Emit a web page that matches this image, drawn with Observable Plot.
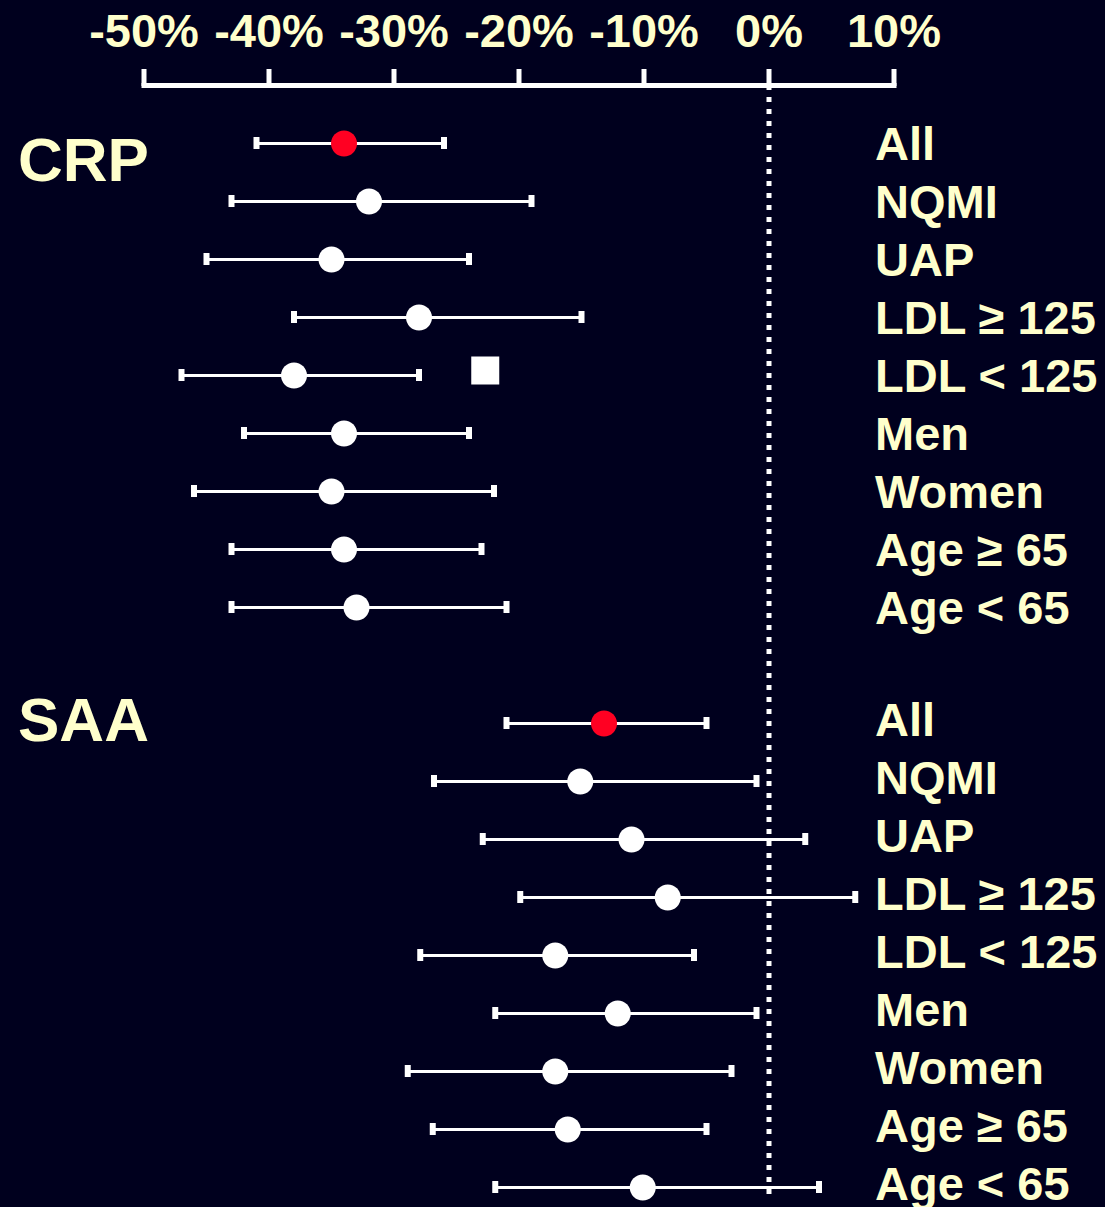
<!DOCTYPE html>
<html>
<head>
<meta charset="utf-8">
<script src="https://cdn.jsdelivr.net/npm/d3@7"></script>
<script src="https://cdn.jsdelivr.net/npm/@observablehq/plot@0.6"></script>
<style>
  html, body { margin: 0; padding: 0; background: #00001e; }
  #chart svg { display: block; }
</style>
</head>
<body>
<div id="chart"></div>
<script>
// ---- data ----
const groups = ["CRP", "SAA"];
const subgroups = ["All", "NQMI", "UAP", "LDL ≥ 125", "LDL < 125", "Men", "Women", "Age ≥ 65", "Age < 65"];

const crpMid = [-34, -32, -35, -28, -38, -34, -35, -34, -33];
const crpLo  = [-41, -43, -45, -38, -47, -42, -46, -43, -43];
const crpHi  = [-26, -19, -24, -15, -28, -24, -22, -23, -21];

const saaMid = [-13.2, -15.1, -11, -8.1, -17.1, -12.1, -17.1, -16.1, -10.1];
const saaLo  = [-21, -26.8, -22.9, -19.9, -27.9, -21.9, -28.9, -26.9, -21.9];
const saaHi  = [-5, -1, 2.9, 6.9, -6, -1, -3, -5, 4];

const squareMarker = [{group: "CRP", label: "LDL < 125", value: -22.7}];

const xTicks = [-50, -40, -30, -20, -10, 0, 10];

// ---- build table ----
const key = (g, s) => g + "|" + s;
const rowKeys = [
  ...subgroups.map(s => key("CRP", s)),
  "gap",
  ...subgroups.map(s => key("SAA", s))
];
const rows = [
  ...subgroups.map((s, i) => ({group: "CRP", label: s, key: key("CRP", s), mid: crpMid[i], lo: crpLo[i], hi: crpHi[i]})),
  ...subgroups.map((s, i) => ({group: "SAA", label: s, key: key("SAA", s), mid: saaMid[i], lo: saaLo[i], hi: saaHi[i]}))
];
const squares = squareMarker.map(d => ({...d, key: key(d.group, d.label)}));
const groupLabels = groups.map(g => ({label: g, key: key(g, subgroups[0])}));

const textColor = "#ffffcc";
const font = "'Liberation Sans', Arial, Helvetica, sans-serif";

const labelOpts = {y: "key", text: "label", frameAnchor: "right", dx: -19, textAnchor: "start",
  fill: textColor, fontSize: 47, fontWeight: "bold"};

const chart = Plot.plot({
  width: 1105,
  height: 1207,
  marginLeft: 143.5,
  marginRight: 1105 - 893.5,
  marginTop: 85,
  marginBottom: 11,
  style: {background: "#00001e", fontFamily: font, fontWeight: "bold", overflow: "visible"},
  x: {domain: [-50, 10], axis: null},
  y: {type: "point", domain: rowKeys, range: [142.5, 1187.5], padding: 0, axis: null},
  marks: [
    Plot.frame({anchor: "top", stroke: "white", strokeWidth: 5, strokeLinecap: "square"}),
    Plot.axisX(xTicks, {
      anchor: "top", tickSize: 17, tickPadding: 22,
      stroke: "white", strokeWidth: 5,
      fill: textColor, fontSize: 47, fontWeight: "bold",
      tickFormat: d => `${d}%`
    }),
    Plot.ruleX([0], {stroke: "white", strokeWidth: 5, strokeDasharray: "5,7"}),
    Plot.ruleY(rows, {y: "key", x1: "lo", x2: "hi", stroke: "white", strokeWidth: 3}),
    Plot.ruleX(rows, {x: "lo", y1: "key", y2: "key", insetTop: -6, insetBottom: -6, stroke: "white", strokeWidth: 6}),
    Plot.ruleX(rows, {x: "hi", y1: "key", y2: "key", insetTop: -6, insetBottom: -6, stroke: "white", strokeWidth: 6}),
    Plot.dot(rows, {x: "mid", y: "key", r: 13, fill: d => d.label === "All" ? "#ff0022" : "white", stroke: null}),
    Plot.dot(squares, {x: "value", y: "key", symbol: "square", r: 15.8, fill: "white", dy: -5}),
    Plot.text(rows.filter(d => d.group === "CRP"), {...labelOpts, dy: 1}),
    Plot.text(rows.filter(d => d.group === "SAA"), {...labelOpts, dy: -3}),
    Plot.text(groupLabels.filter(d => d.label === "CRP"), {y: "key", text: "label", frameAnchor: "left", dx: -126, dy: 18,
      textAnchor: "start", fill: textColor, fontSize: 62, fontWeight: "bold"}),
    Plot.text(groupLabels.filter(d => d.label === "SAA"), {y: "key", text: "label", frameAnchor: "left", dx: -126, dy: -2,
      textAnchor: "start", fill: textColor, fontSize: 62, fontWeight: "bold"})
  ]
});
document.getElementById("chart").appendChild(chart);
</script>
</body>
</html>
